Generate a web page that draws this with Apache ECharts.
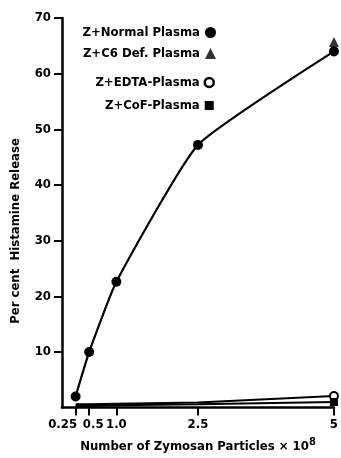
<!DOCTYPE html>
<html><head><meta charset="utf-8">
<script src="https://cdn.jsdelivr.net/npm/echarts@6/dist/echarts.min.js"></script>
<style>html,body{margin:0;padding:0;background:#fff}#c{width:341px;height:458px}</style>
</head><body><div id="c"></div>
<script>
const xTicks = [0, 0.25, 0.5, 1, 2.5, 5];
const xTickLabels = ['', '0.25', '0.5', '1.0', '2.5', '5'];
const yTicks = [10, 20, 30, 40, 50, 60, 70];
const normalX = [0.25, 0.5, 1, 2.5, 5];
const normalY = [2, 10, 22.6, 47.2, 64];
const c6X = [5];
const c6Y = [65.7];
const edtaX = [0.25, 0.5, 1, 2.5, 5];
const edtaY = [0.6, 0.6, 0.7, 0.9, 2.1];
const cofX = [0.25, 0.5, 1, 2.5, 5];
const cofY = [0.3, 0.3, 0.4, 0.6, 1.0];

const FONT = '"DejaVu Sans Condensed", "Liberation Sans", sans-serif';
const FS = 13;
const pairs = (xs, ys) => xs.map((x, i) => [x, ys[i]]);
const lastOnly = (xs, ys, sym, size) => xs.map((x, i) => i === xs.length - 1
  ? { value: [x, ys[i]], symbol: sym, symbolSize: size }
  : { value: [x, ys[i]] });
const txt = { fontFamily: FONT, fontWeight: 'bold', fontSize: FS, color: '#000' };

const chart = echarts.init(document.getElementById('c'));
chart.setOption({
  backgroundColor: '#fff',
  animation: false,
  grid: { left: 62, right: 4, top: 18, bottom: 47 },
  legend: [
    {
      orient: 'vertical', align: 'right', right: 120, top: 21, itemGap: 8,
      itemWidth: 11, itemHeight: 11, textStyle: txt,
      data: [
        { name: 'Z+Normal Plasma', icon: 'circle', itemStyle: { color: '#000' } },
        { name: 'Z+C6 Def. Plasma', icon: 'triangle', itemStyle: { color: '#000' } }
      ]
    },
    {
      orient: 'vertical', align: 'right', right: 121, top: 71, itemGap: 10,
      itemWidth: 9, itemHeight: 9, textStyle: txt,
      data: [
        { name: 'Z+EDTA-Plasma', icon: 'circle', itemStyle: { color: '#fff', borderColor: '#000', borderWidth: 2.5 } },
        { name: 'Z+CoF-Plasma', icon: 'rect', itemStyle: { color: '#000' } }
      ]
    }
  ],
  xAxis: {
    type: 'value', min: 0, max: 5,
    name: '{a|Number of Zymosan Particles × 10}{s|8}',
    nameLocation: 'middle', nameGap: 25,
    nameTextStyle: {
      rich: {
        a: txt,
        s: { fontFamily: FONT, fontWeight: 'bold', fontSize: 11, color: '#000', padding: [0, 0, 9, 0] }
      }
    },
    axisLine: { lineStyle: { color: '#000', width: 2.5 } },
    axisTick: { customValues: xTicks, length: 8, lineStyle: { color: '#000', width: 2 } },
    axisLabel: {
      customValues: xTicks, margin: 11, hideOverlap: false, showMinLabel: false,
      formatter: v => v === 0.25 ? '{l|0.25}' : (v === 0.5 ? '{m|0.5}' : xTickLabels[xTicks.indexOf(v)]),
      ...txt,
      rich: {
        l: { ...txt, padding: [0, 26, 0, 0] },
        m: { ...txt, padding: [0, 0, 0, 8] }
      }
    },
    splitLine: { show: false }
  },
  yAxis: {
    type: 'value', min: 0, max: 70, interval: 10,
    axisLine: { show: true, lineStyle: { color: '#000', width: 2.5 } },
    axisTick: { customValues: yTicks, length: 8, lineStyle: { color: '#000', width: 2 } },
    axisLabel: { customValues: yTicks, margin: 11, ...txt },
    splitLine: { show: false }
  },
  graphic: [{
    type: 'text', x: 16, y: 231, rotation: Math.PI / 2,
    style: {
      text: 'Per cent  Histamine Release', fontFamily: FONT, fontWeight: 'bold', fontSize: FS,
      fill: '#000', align: 'center', verticalAlign: 'middle'
    }
  }],
  series: [
    {
      name: 'Z+EDTA-Plasma', type: 'line', symbol: 'none',
      data: lastOnly(edtaX, edtaY, 'emptyCircle', 8),
      lineStyle: { color: '#000', width: 2 },
      itemStyle: { color: '#000', borderWidth: 2.5 }
    },
    {
      name: 'Z+CoF-Plasma', type: 'line', symbol: 'none',
      data: lastOnly(cofX, cofY, 'rect', 8),
      lineStyle: { color: '#000', width: 2 },
      itemStyle: { color: '#000' }
    },
    {
      name: 'Z+Normal Plasma', type: 'line', smooth: 0.15,
      symbol: 'circle', symbolSize: 10,
      data: pairs(normalX, normalY),
      lineStyle: { color: '#000', width: 2.2 },
      itemStyle: { color: '#000' }
    },
    {
      name: 'Z+C6 Def. Plasma', type: 'scatter', symbol: 'triangle', symbolSize: 10,
      data: pairs(c6X, c6Y),
      itemStyle: { color: '#000' }
    }
  ]
});
</script></body></html>
